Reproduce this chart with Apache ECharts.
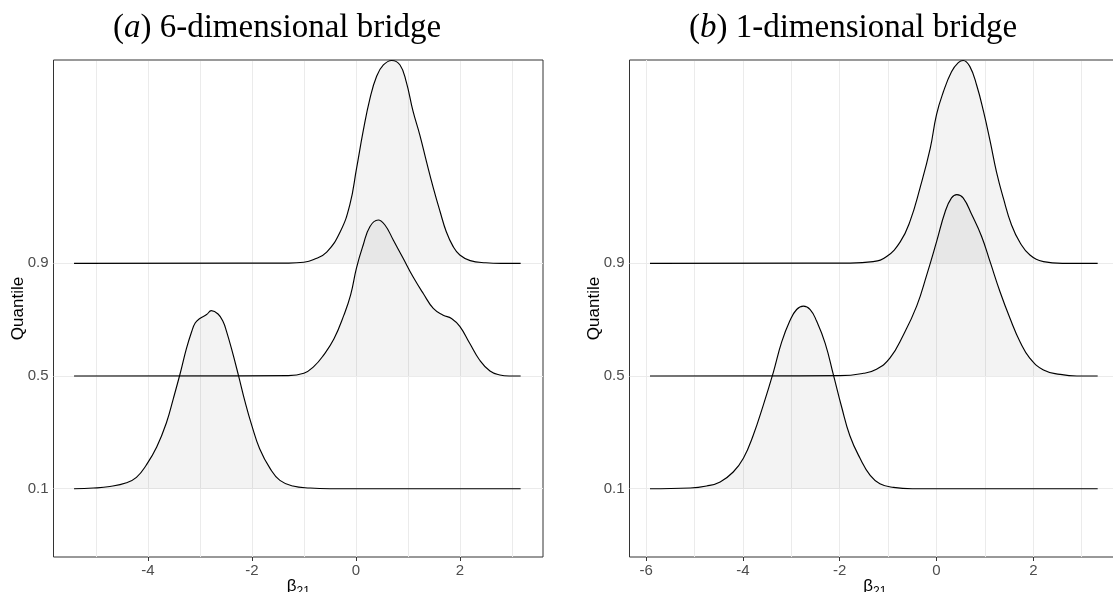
<!DOCTYPE html>
<html>
<head>
<meta charset="utf-8">
<script src="https://cdn.jsdelivr.net/npm/echarts@6/dist/echarts.min.js"></script>
<style>html,body{margin:0;padding:0;background:#fff;}#c{width:1113px;height:592px;}</style>
</head>
<body>
<div id="c"></div>
<script>
// ---- data ----
const quantileLabels = ['0.1', '0.5', '0.9'];
const ridgePositions = [1, 2, 3];
const xTicksA = [-4, -2, 0, 2];
const xTicksB = [-6, -4, -2, 0, 2];
const xGridA = [-5, -4, -3, -2, -1, 0, 1, 2, 3];
const xGridB = [-6, -5, -4, -3, -2, -1, 0, 1, 2, 3];
const titleA = '({i|a}) 6-dimensional bridge';
const titleB = '({i|b}) 1-dimensional bridge';

// panel (a): 6-dimensional bridge
const a01x = [-5.42, -5.05, -4.73, -4.41, -4.22, -4.03, -3.83, -3.64, -3.51, -3.38, -3.26, -3.16, -3.09, -3.0, -2.87, -2.78, -2.65, -2.55, -2.49, -2.39, -2.26, -2.13, -2.0, -1.85, -1.65, -1.46, -1.21, -0.88, -0.5, 3.17];
const a01h = [0, 0.006, 0.02, 0.053, 0.10, 0.21, 0.37, 0.59, 0.80, 1.02, 1.24, 1.39, 1.47, 1.51, 1.545, 1.58, 1.55, 1.48, 1.40, 1.24, 1.01, 0.77, 0.56, 0.355, 0.18, 0.074, 0.024, 0.006, 0, 0];
const a05x = [-5.42, -1.3, -1.0, -0.81, -0.62, -0.42, -0.23, -0.10, 0.013, 0.14, 0.27, 0.43, 0.56, 0.72, 0.91, 1.10, 1.30, 1.49, 1.68, 1.84, 2.0, 2.19, 2.38, 2.58, 2.77, 2.95, 3.17];
const a05h = [0, 0.003, 0.024, 0.083, 0.186, 0.33, 0.54, 0.72, 0.96, 1.16, 1.325, 1.384, 1.34, 1.207, 1.044, 0.88, 0.73, 0.60, 0.54, 0.51, 0.44, 0.29, 0.142, 0.044, 0.009, 0, 0];
const a09x = [-5.42, -1.3, -1.0, -0.81, -0.56, -0.30, -0.115, 0.013, 0.14, 0.27, 0.40, 0.53, 0.69, 0.85, 0.97, 1.10, 1.23, 1.36, 1.49, 1.62, 1.74, 1.87, 2.0, 2.2, 2.5, 2.8, 3.17];
const a09h = [0, 0.002, 0.009, 0.033, 0.10, 0.28, 0.52, 0.84, 1.17, 1.46, 1.66, 1.76, 1.80, 1.76, 1.61, 1.35, 1.14, 0.90, 0.67, 0.46, 0.28, 0.15, 0.074, 0.024, 0.005, 0, 0];

// panel (b): 1-dimensional bridge
const b01x = [-5.92, -5.09, -4.75, -4.47, -4.20, -3.99, -3.79, -3.58, -3.37, -3.20, -3.03, -2.89, -2.75, -2.61, -2.48, -2.30, -2.13, -1.96, -1.79, -1.58, -1.37, -1.17, -0.89, -0.5, 3.33];
const b01h = [0, 0.006, 0.024, 0.06, 0.148, 0.27, 0.47, 0.74, 1.035, 1.30, 1.49, 1.59, 1.62, 1.59, 1.49, 1.29, 1.01, 0.725, 0.47, 0.27, 0.118, 0.044, 0.012, 0, 0];
const b05x = [-5.92, -2.0, -1.51, -1.24, -0.96, -0.69, -0.41, -0.20, 0.0, 0.18, 0.31, 0.42, 0.55, 0.73, 0.93, 1.11, 1.31, 1.52, 1.73, 1.93, 2.21, 2.55, 2.9, 3.33];
const b05h = [0, 0.003, 0.024, 0.06, 0.16, 0.36, 0.62, 0.90, 1.19, 1.46, 1.58, 1.61, 1.58, 1.43, 1.24, 1.01, 0.75, 0.51, 0.30, 0.157, 0.053, 0.015, 0, 0];
const b09x = [-5.92, -1.8, -1.31, -1.03, -0.75, -0.55, -0.34, -0.13, 0.0, 0.14, 0.31, 0.45, 0.55, 0.69, 0.83, 0.97, 1.11, 1.24, 1.38, 1.55, 1.73, 1.93, 2.21, 2.6, 3.33];
const b09h = [0, 0.002, 0.015, 0.06, 0.19, 0.37, 0.67, 1.02, 1.32, 1.52, 1.70, 1.78, 1.80, 1.745, 1.58, 1.35, 1.08, 0.81, 0.58, 0.34, 0.18, 0.074, 0.015, 0, 0];

// ---- chart ----
const SANS = "'Liberation Sans', Arial, sans-serif";
const SERIF = "'Liberation Serif', 'Times New Roman', serif";
const yMin = 0.394, yMax = 4.804;
const panels = [
  { left: 53.5, width: 489.5, min: -5.815, max: 3.6, ticks: xTicksA, grid: xGridA,
    ridges: [[a09x, a09h, 3], [a05x, a05h, 2], [a01x, a01h, 1]] },
  { left: 629.5, width: 490.5, min: -6.343, max: 3.791, ticks: xTicksB, grid: xGridB,
    ridges: [[b09x, b09h, 3], [b05x, b05h, 2], [b01x, b01h, 1]] }
];

const grids = [], xAxes = [], yAxes = [], series = [];
panels.forEach((p, gi) => {
  grids.push({ left: p.left, top: 60, width: p.width, height: 497, show: true,
    borderColor: '#333', borderWidth: 1, backgroundColor: '#fff',
    containLabel: false, outerBoundsMode: 'none' });
  xAxes.push({
    gridIndex: gi, type: 'value', min: p.min, max: p.max,
    axisLine: { show: false },
    axisTick: { show: true, length: 4, customValues: p.ticks, lineStyle: { color: '#333', width: 1 } },
    axisLabel: { customValues: p.ticks, color: '#4d4d4d', fontSize: 15, fontFamily: SANS, margin: 6 },
    splitLine: { show: false },
    name: '{b|β}{s|21}', nameLocation: 'middle', nameGap: 21, nameMoveOverlap: false,
    nameTextStyle: { rich: {
      b: { fontSize: 17, fontFamily: SANS, color: '#000', verticalAlign: 'top' },
      s: { fontSize: 12, fontFamily: SANS, color: '#000', verticalAlign: 'bottom', padding: [8, 0, 0, 0] }
    } }
  });
  yAxes.push({
    gridIndex: gi, type: 'value', min: yMin, max: yMax,
    axisLine: { show: false },
    axisTick: { show: true, length: 4, customValues: ridgePositions, lineStyle: { color: '#333', width: 1 } },
    axisLabel: { customValues: ridgePositions, color: '#4d4d4d', fontSize: 15, fontFamily: SANS, margin: 5,
      formatter: v => quantileLabels[ridgePositions.indexOf(Math.round(v))] || '' },
    splitLine: { show: false },
    name: 'Quantile', nameLocation: 'middle', nameRotate: 90, nameGap: 27, nameMoveOverlap: false,
    nameTextStyle: { fontSize: 17, fontFamily: SANS, color: '#000' }
  });
  const starts = p.ridges.map(r => r[0][0]);
  const ends = p.ridges.map(r => r[0][r[0].length - 1]);
  // background grid lines + lighter top frame over the data range
  series.push({
    type: 'line', xAxisIndex: gi, yAxisIndex: gi, data: [], silent: true, z: 1,
    markLine: { silent: true, z: 1, symbol: ['none', 'none'], label: { show: false }, animation: false,
      lineStyle: { color: '#ebebeb', width: 1, type: 'solid' },
      data: p.grid.map(v => ({ xAxis: v })).concat(ridgePositions.map(v => ({ yAxis: v }))).concat([
        [{ coord: [Math.min(...starts), yMax], lineStyle: { color: '#9a9a9a', width: 1, type: 'solid' } },
         { coord: [Math.max(...ends), yMax] }]
      ]) }
  });
  // ridges
  p.ridges.forEach(([xs, hs, base]) => {
    series.push({
      type: 'line', xAxisIndex: gi, yAxisIndex: gi, z: 3, silent: true,
      data: xs.map((x, i) => [x, base + hs[i]]),
      symbol: 'none', showSymbol: false, smooth: 0.45,
      lineStyle: { color: '#000', width: 1.15 },
      areaStyle: { color: 'rgba(0,0,0,0.066)', origin: base }
    });
  });
});

const chart = echarts.init(document.getElementById('c'), null, { renderer: 'canvas' });
chart.setOption({
  animation: false,
  backgroundColor: '#fff',
  grid: grids, xAxis: xAxes, yAxis: yAxes, series: series,
  graphic: [
    { type: 'text', x: 277, y: 28, style: { text: titleA, fontFamily: SERIF, fontSize: 33, fill: '#000',
      align: 'center', verticalAlign: 'middle', textAlign: 'center', textVerticalAlign: 'middle',
      rich: { i: { fontStyle: 'italic', fontFamily: SERIF, fontSize: 33 } } } },
    { type: 'text', x: 853, y: 28, style: { text: titleB, fontFamily: SERIF, fontSize: 33, fill: '#000',
      align: 'center', verticalAlign: 'middle', textAlign: 'center', textVerticalAlign: 'middle',
      rich: { i: { fontStyle: 'italic', fontFamily: SERIF, fontSize: 33 } } } }
  ]
});
</script>
</body>
</html>
